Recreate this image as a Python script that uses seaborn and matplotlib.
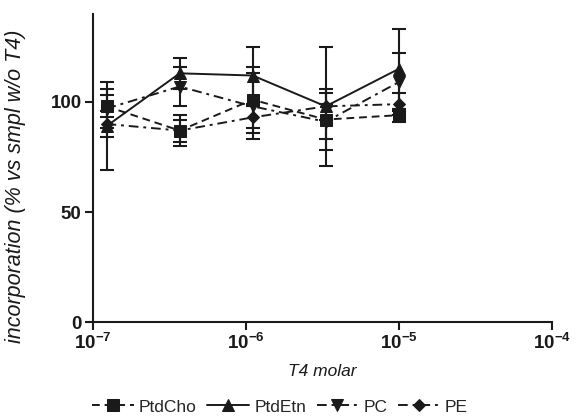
import matplotlib
matplotlib.use("Agg")
import matplotlib.pyplot as plt
import numpy as np
import pandas as pd
import seaborn as sns

# T4 concentrations (3-fold dilution series, molar)
conc = [1.23e-7, 3.7e-7, 1.11e-6, 3.33e-6, 1.0e-5]

lipids = ["PtdCho", "PtdEtn", "PC", "PE"]
ptdcho = [98, 87, 101, 92, 94]
ptdetn = [89, 113, 112, 98, 115]
pc = [97, 107, 98, 91, 109]
pe = [90, 87, 93, 98, 99]

ptdcho_err = [5, 7, 15, 14, 3]
ptdetn_err = [20, 7, 13, 27, 18]
pc_err = [9, 9, 15, 8, 13]
pe_err = [6, 5, 5, 6, 5]

xticks = [1e-7, 1e-6, 1e-5, 1e-4]
xticklabels = [r"$\mathbf{10^{-7}}$", r"$\mathbf{10^{-6}}$",
               r"$\mathbf{10^{-5}}$", r"$\mathbf{10^{-4}}$"]
yticks = [0, 50, 100]

sns.set_style("ticks")
plt.rcParams["font.family"] = ["Liberation Sans", "DejaVu Sans"]
plt.rcParams["mathtext.fontset"] = "custom"
plt.rcParams["mathtext.rm"] = "Liberation Sans"
plt.rcParams["mathtext.bf"] = "Liberation Sans:bold"

vals = {"PtdCho": ptdcho, "PtdEtn": ptdetn, "PC": pc, "PE": pe}
errs = {"PtdCho": ptdcho_err, "PtdEtn": ptdetn_err, "PC": pc_err, "PE": pe_err}
df = pd.DataFrame([
    {"conc": c, "val": v, "lipid": name}
    for name in lipids for c, v in zip(conc, vals[name])
])

markers = {"PtdCho": "s", "PtdEtn": "^", "PC": "v", "PE": "D"}
dashes = {"PtdCho": (4, 2.5), "PtdEtn": "", "PC": (5, 2.5, 1.5, 2.5),
          "PE": (5, 2.5, 1.5, 2.5)}

ink = "#1a1a1a"
fig = plt.figure(figsize=(5.87, 4.2), dpi=100)
ax = fig.add_axes([0.158, 0.233, 0.782, 0.734])

for name in lipids:
    ax.errorbar(conc, vals[name], yerr=errs[name], fmt="none",
                ecolor=ink, elinewidth=1.5, capsize=5, capthick=1.5,
                zorder=2)

sns.lineplot(data=df, x="conc", y="val", hue="lipid", style="lipid",
             palette=[ink] * 4, markers=markers, dashes=dashes,
             markersize=8, markeredgecolor=ink, linewidth=1.4,
             ax=ax, legend=True, zorder=3)

# diamonds look oversized next to the other markers
for ln in ax.lines:
    if ln.get_marker() == "D":
        ln.set_markersize(6.5)

ax.set_xscale("log")
ax.set_xlim(1e-7, 1e-4)
ax.set_ylim(0, 140)
ax.set_xticks(xticks)
ax.set_xticklabels(xticklabels, fontsize=13.5)
ax.minorticks_off()
ax.set_yticks(yticks)
ax.set_yticklabels([str(t) for t in yticks], fontsize=13.5, fontweight="bold")
ax.tick_params(axis="both", direction="out", length=6, width=1.5,
               colors=ink, pad=2)
for s in ["top", "right"]:
    ax.spines[s].set_visible(False)
for s in ["left", "bottom"]:
    ax.spines[s].set_linewidth(1.5)
    ax.spines[s].set_color(ink)

ax.set_xlabel("T4 molar", fontsize=12.5, style="italic", color=ink,
              labelpad=8)
ax.set_ylabel("incorporation (% vs smpl w/o T4)", fontsize=15.5,
              style="italic", color=ink)
ax.yaxis.set_label_coords(-0.146, 0.44)

handles, labels = ax.get_legend_handles_labels()
ax.legend_.remove()
for h in handles:
    if h.get_marker() == "D":
        h.set_markersize(6.5)
fig.legend(handles, labels, loc="center", bbox_to_anchor=(0.477, 0.031),
           ncol=4, frameon=False, fontsize=12.5, handlelength=2.4,
           columnspacing=0.6, handletextpad=0.3)

fig.savefig("out.png", dpi=100)
